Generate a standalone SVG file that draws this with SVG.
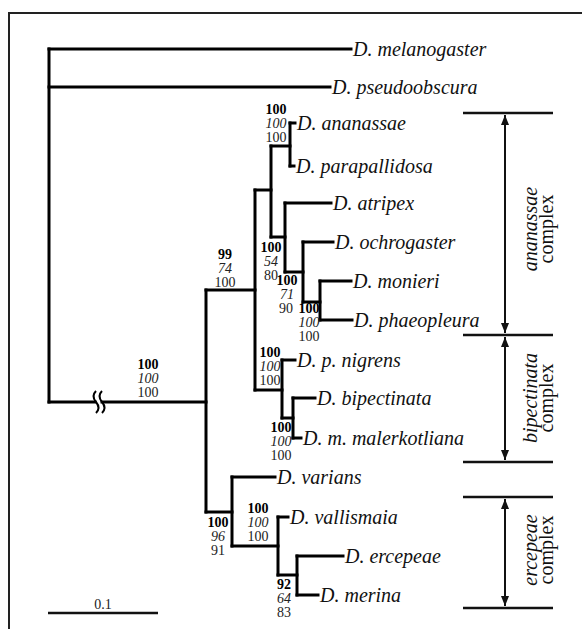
<svg xmlns="http://www.w3.org/2000/svg" width="582" height="629" viewBox="0 0 582 629">
<defs>
<style>
.frame{fill:none;stroke:#222;stroke-width:2}
.br{fill:none;stroke:#000;stroke-width:3;stroke-linecap:square}
.bar{fill:none;stroke:#111;stroke-width:2.5}
.arr{fill:none;stroke:#111;stroke-width:2}
.tx{font-family:"Liberation Serif","Times New Roman",serif;font-style:italic;font-size:20px;fill:#111}
.sv{font-family:"Liberation Serif","Times New Roman",serif;font-size:14px;fill:#222;text-anchor:middle}
.b{font-weight:bold;fill:#000}
.i{font-style:italic}
.cx{font-family:"Liberation Serif","Times New Roman",serif;font-size:20px;fill:#111;text-anchor:middle}
</style>
<marker id="ah" viewBox="0 0 10 8" refX="10" refY="4" markerWidth="10" markerHeight="8" markerUnits="userSpaceOnUse" orient="auto-start-reverse">
<path d="M0,0 L10,4 L0,8 Z" fill="#111"/>
</marker>
</defs>
<rect width="582" height="629" fill="#fff"/>
<path class="frame" d="M9,629 V13 H582"/>

<g id="connectors">
<path class="br" d="M49,49 V402"/>
<path class="br" d="M49,49 H351"/>
<path class="br" d="M49,87 H330"/>
<path class="br" d="M49,402 H95"/>
<path class="br" d="M102,402 H206"/>
<path d="M96,391 q-5,5 0,11 t0,11 M102,391 q-5,5 0,11 t0,11" fill="none" stroke="#000" stroke-width="2"/>
<path class="br" d="M206,290 V512"/>
<path class="br" d="M206,290 H255"/>
<path class="br" d="M255,190 V390"/>
<path class="br" d="M255,190 H271"/>
<path class="br" d="M271,146 V237"/>
<path class="br" d="M271,146 H290"/>
<path class="br" d="M290,123 V166"/>
<path class="br" d="M290,123 H295"/>
<path class="br" d="M290,166 H294"/>
<path class="br" d="M271,237 H285"/>
<path class="br" d="M285,203 V272"/>
<path class="br" d="M285,203 H331"/>
<path class="br" d="M285,272 H303"/>
<path class="br" d="M303,242 V302"/>
<path class="br" d="M303,242 H333"/>
<path class="br" d="M303,302 H320"/>
<path class="br" d="M320,281 V320"/>
<path class="br" d="M320,281 H351"/>
<path class="br" d="M320,320 H352"/>
<path class="br" d="M255,390 H282"/>
<path class="br" d="M282,360 V418"/>
<path class="br" d="M282,360 H295"/>
<path class="br" d="M282,418 H293"/>
<path class="br" d="M293,398 V438"/>
<path class="br" d="M293,398 H315"/>
<path class="br" d="M293,438 H301"/>
<path class="br" d="M206,512 H232"/>
<path class="br" d="M232,477 V546"/>
<path class="br" d="M232,477 H275"/>
<path class="br" d="M232,546 H278"/>
<path class="br" d="M278,517 V575"/>
<path class="br" d="M278,517 H288"/>
<path class="br" d="M278,575 H297"/>
<path class="br" d="M297,556 V595"/>
<path class="br" d="M297,556 H343"/>
<path class="br" d="M297,595 H318"/>
</g>

<g id="taxa">
<g id="melanogaster"><text class="tx" x="353" y="56">D. melanogaster</text></g>
<g id="pseudoobscura"><text class="tx" x="332" y="94">D. pseudoobscura</text></g>
<g id="ananassae"><text class="tx" x="297" y="130">D. ananassae</text></g>
<g id="parapallidosa"><text class="tx" x="296" y="173">D. parapallidosa</text></g>
<g id="atripex"><text class="tx" x="333" y="210">D. atripex</text></g>
<g id="ochrogaster"><text class="tx" x="335" y="249">D. ochrogaster</text></g>
<g id="monieri"><text class="tx" x="353" y="288">D. monieri</text></g>
<g id="phaeopleura"><text class="tx" x="354" y="327">D. phaeopleura</text></g>
<g id="p-nigrens"><text class="tx" x="297" y="367">D. p. nigrens</text></g>
<g id="bipectinata"><text class="tx" x="317" y="405">D. bipectinata</text></g>
<g id="m-malerkotliana"><text class="tx" x="303" y="445">D. m. malerkotliana</text></g>
<g id="varians"><text class="tx" x="277" y="484">D. varians</text></g>
<g id="vallismaia"><text class="tx" x="290" y="524">D. vallismaia</text></g>
<g id="ercepeae"><text class="tx" x="345" y="563">D. ercepeae</text></g>
<g id="merina"><text class="tx" x="320" y="602">D. merina</text></g>
</g>

<g id="support">
<g id="s-ingroup"><text class="sv b" x="148" y="369">100</text><text class="sv i" x="148" y="383">100</text><text class="sv" x="148" y="397">100</text></g>
<g id="s-ananassae-bip"><text class="sv b" x="225" y="259">99</text><text class="sv i" x="225" y="273">74</text><text class="sv" x="225" y="287">100</text></g>
<g id="s-anan-para"><text class="sv b" x="276" y="114">100</text><text class="sv i" x="276" y="128">100</text><text class="sv" x="276" y="142">100</text></g>
<g id="s-atripex"><text class="sv b" x="271" y="252">100</text><text class="sv i" x="271" y="266">54</text><text class="sv" x="271" y="280">80</text></g>
<g id="s-ochrogaster"><text class="sv b" x="287" y="285">100</text><text class="sv i" x="287" y="299">71</text><text class="sv" x="286" y="313">90</text></g>
<g id="s-monieri"><text class="sv b" x="309" y="313">100</text><text class="sv i" x="309" y="327">100</text><text class="sv" x="309" y="341">100</text></g>
<g id="s-bip-complex"><text class="sv b" x="270" y="357">100</text><text class="sv i" x="270" y="371">100</text><text class="sv" x="270" y="385">100</text></g>
<g id="s-bip-mal"><text class="sv b" x="281" y="432">100</text><text class="sv i" x="281" y="446">100</text><text class="sv" x="281" y="460">100</text></g>
<g id="s-varians"><text class="sv b" x="218" y="527">100</text><text class="sv i" x="218" y="541">96</text><text class="sv" x="218" y="555">91</text></g>
<g id="s-ercepeae-complex"><text class="sv b" x="258" y="513">100</text><text class="sv i" x="258" y="527">100</text><text class="sv" x="258" y="541">100</text></g>
<g id="s-erc-mer"><text class="sv b" x="284" y="589">92</text><text class="sv i" x="284" y="603">64</text><text class="sv" x="284" y="617">83</text></g>
</g>

<g id="complexes">
<g id="bars">
<path class="bar" d="M463,113 H553 M463,335 H553 M463,462 H553 M463,497 H553 M463,608 H553"/>
</g>
<g id="ananassae-complex">
<path class="arr" d="M505,115 V333" marker-start="url(#ah)" marker-end="url(#ah)"/>
<text class="cx" transform="translate(537,229) rotate(-90)" font-style="italic">ananassae</text>
<text class="cx" transform="translate(553,229) rotate(-90)">complex</text>
</g>
<g id="bipectinata-complex">
<path class="arr" d="M505,337 V460" marker-start="url(#ah)" marker-end="url(#ah)"/>
<text class="cx" transform="translate(537,398) rotate(-90)" font-style="italic">bipectinata</text>
<text class="cx" transform="translate(553,398) rotate(-90)">complex</text>
</g>
<g id="ercepeae-complex">
<path class="arr" d="M505,499 V606" marker-start="url(#ah)" marker-end="url(#ah)"/>
<text class="cx" transform="translate(537,550) rotate(-90)" font-style="italic">ercepeae</text>
<text class="cx" transform="translate(553,550) rotate(-90)">complex</text>
</g>
</g>

<g id="scale">
<path class="bar" d="M48,613 H158"/>
<text class="sv" x="103" y="609" font-size="16">0.1</text>
</g>
</svg>
